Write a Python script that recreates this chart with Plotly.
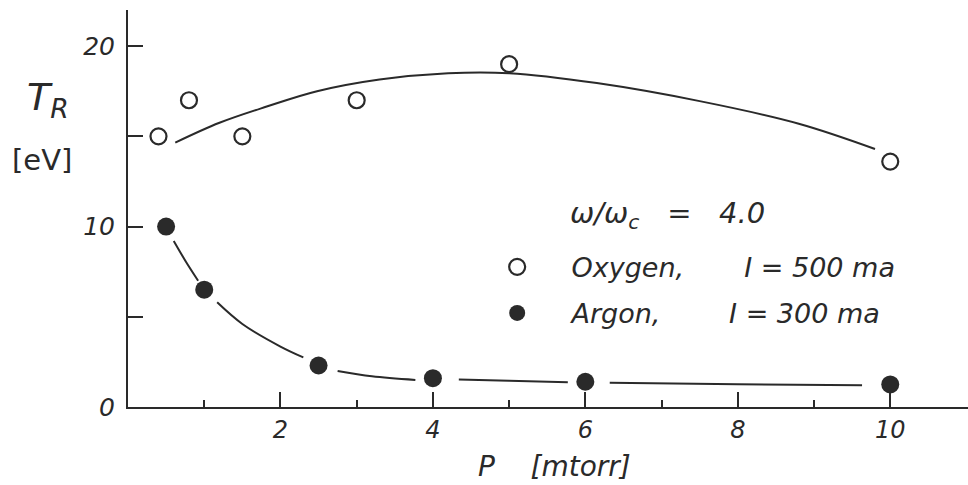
import plotly.graph_objects as go

# Measured points: pressure P [mtorr] vs. rotational temperature T_R [eV]
pressure_o2 = [0.4, 0.8, 1.5, 3.0, 5.0, 10.0]
temp_o2 = [15.0, 17.0, 15.0, 17.0, 19.0, 13.6]

pressure_ar = [0.5, 1.0, 2.5, 4.0, 6.0, 10.0]
temp_ar = [10.0, 6.5, 2.3, 1.6, 1.4, 1.25]

# Hand-drawn trend curves (argon curve is broken where it passes the dots)
fit_p_o2 = [0.62, 1.2, 1.82, 2.48, 3.3, 4.2, 5.0, 6.15, 7.5, 8.8, 9.8]
fit_t_o2 = [14.65, 15.75, 16.65, 17.5, 18.15, 18.5, 18.5, 17.95, 16.95, 15.7, 14.3]

fit_p_ar = [0.6, 0.76, 0.92, None, 1.17, 1.5, 2.0, 2.3, None,
            2.75, 3.2, 3.77, None, 4.34, 5.0, 5.77, None, 6.32, 8.0, 9.63]
fit_t_ar = [9.2, 8.05, 7.0, None, 5.8, 4.6, 3.35, 2.75, None,
            2.0, 1.7, 1.5, None, 1.52, 1.45, 1.37, None, 1.35, 1.26, 1.2]

x_ticks = [2, 4, 6, 8, 10]
x_minor_ticks = [1, 3, 5, 7, 9]
y_ticks = [0, 10, 20]
y_minor_ticks = [5, 15]

INK = "#2a2a2a"
FONT = "DejaVu Sans"

fig = go.Figure()

fig.add_trace(go.Scatter(
    x=fit_p_o2, y=fit_t_o2, mode="lines",
    line=dict(color=INK, width=2, shape="spline", smoothing=1.0),
    showlegend=False, hoverinfo="skip",
))
fig.add_trace(go.Scatter(
    x=fit_p_ar, y=fit_t_ar, mode="lines",
    line=dict(color=INK, width=2, shape="spline", smoothing=1.0),
    connectgaps=False, showlegend=False, hoverinfo="skip",
))
fig.add_trace(go.Scatter(
    x=pressure_o2, y=temp_o2, mode="markers",
    name="    Oxygen,       I = 500 ma", legendgroup="o2",
    marker=dict(symbol="circle-open", size=16, color=INK, line=dict(width=2.2, color=INK)),
))
fig.add_trace(go.Scatter(
    x=pressure_ar, y=temp_ar, mode="markers",
    name="    Argon,        I = 300 ma", legendgroup="ar",
    marker=dict(symbol="circle", size=18, color=INK),
))

fig.update_layout(
    width=968, height=485,
    margin=dict(l=128, r=0, t=10, b=78),
    paper_bgcolor="white", plot_bgcolor="white",
    font=dict(family=FONT, color=INK, style="italic"),
    showlegend=True,
    legend=dict(
        x=0.4395, y=0.294, xanchor="left", yanchor="middle",
        bgcolor="rgba(0,0,0,0)", borderwidth=0,
        font=dict(family=FONT, size=27, color=INK, style="italic"),
        tracegroupgap=8, itemsizing="trace",
    ),
    xaxis=dict(
        range=[0, 11.02], showgrid=False, zeroline=False,
        showline=True, linecolor=INK, linewidth=2,
        tickmode="array", tickvals=x_ticks, ticks="inside",
        ticklen=15, tickwidth=2, tickcolor=INK,
        tickfont=dict(family=FONT, size=24, color=INK, style="italic"),
        minor=dict(tickmode="array", tickvals=x_minor_ticks, ticks="inside",
                   ticklen=7, tickwidth=2, tickcolor=INK, showgrid=False),
    ),
    yaxis=dict(
        range=[0, 22.0], showgrid=False, zeroline=False,
        showline=True, linecolor=INK, linewidth=2,
        tickmode="array", tickvals=y_ticks, ticks="inside",
        ticklen=15, tickwidth=2, tickcolor=INK,
        ticklabelstandoff=6,
        tickfont=dict(family=FONT, size=25, color=INK, style="italic"),
        minor=dict(tickmode="array", tickvals=y_minor_ticks, ticks="inside",
                   ticklen=15, tickwidth=2, tickcolor=INK, showgrid=False),
    ),
)

fig.add_annotation(
    xref="paper", yref="paper", x=(568 - 128) / 840, y=(407.5 - 215) / 397.5,
    xanchor="left", yanchor="middle", showarrow=False,
    text="ω/ω<sub>c</sub>   =   4.0", font=dict(family=FONT, size=29, color=INK, style="italic"),
)
fig.add_annotation(
    xref="paper", yref="paper", x=(476 - 128) / 840, y=(407.5 - 467) / 397.5,
    xanchor="left", yanchor="middle", showarrow=False,
    text="P    [mtorr]", font=dict(family=FONT, size=28, color=INK, style="italic"),
)
fig.add_annotation(
    xref="paper", yref="paper", x=(48 - 128) / 840, y=(407.5 - 100) / 397.5,
    xanchor="center", yanchor="middle", showarrow=False,
    text="T<sub>R</sub>", font=dict(family=FONT, size=38, color=INK, style="italic"),
)
fig.add_annotation(
    xref="paper", yref="paper", x=(42 - 128) / 840, y=(407.5 - 160) / 397.5,
    xanchor="center", yanchor="middle", showarrow=False,
    text="[eV]", font=dict(family=FONT, size=29, color=INK, style="normal"),
)

fig.write_html("out.html")
